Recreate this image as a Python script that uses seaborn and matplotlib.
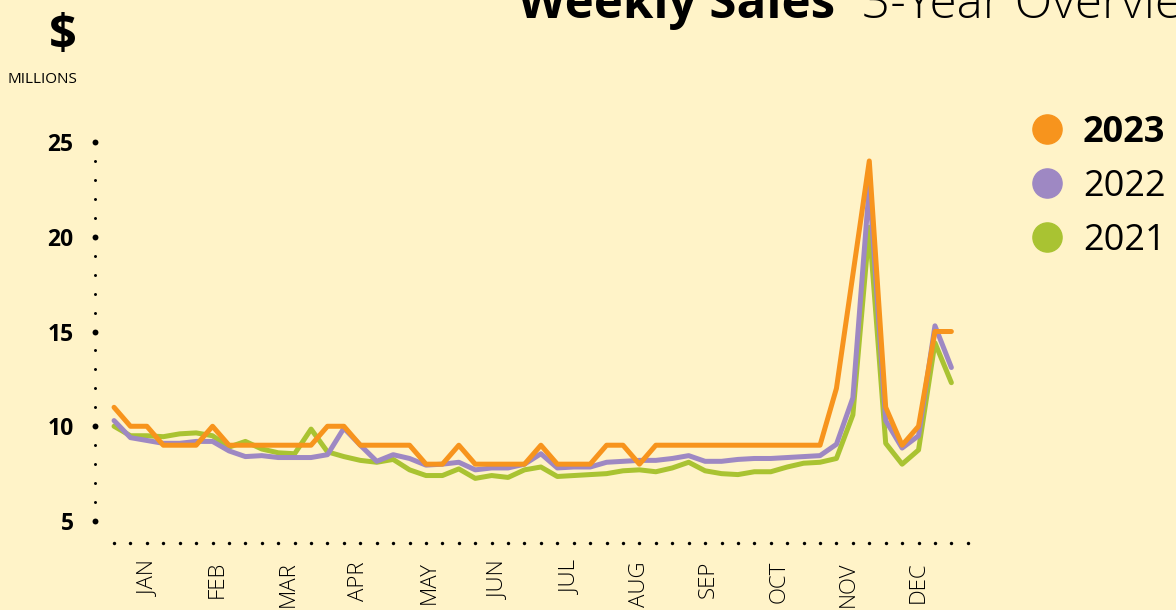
import numpy as np
import pandas as pd
import matplotlib
matplotlib.use("Agg")
import matplotlib.pyplot as plt
from matplotlib.lines import Line2D
import seaborn as sns

# ---------------- data ----------------
years = ["2023", "2022", "2021"]
sales_2023 = [11, 10, 10, 9, 9, 9, 10, 9, 9, 9, 9, 9, 9, 10, 10, 9, 9, 9, 9, 8,
              8, 9, 8, 8, 8, 8, 9, 8, 8, 8, 9, 9, 8, 9, 9, 9, 9, 9, 9, 9,
              9, 9, 9, 9, 12, 18, 24, 11, 9, 10, 15, 15]
sales_2022 = [10.3, 9.4, 9.25, 9.1, 9.1, 9.2, 9.2, 8.7, 8.4, 8.45, 8.35, 8.35, 8.35, 8.5,
              9.9, 9.0, 8.15, 8.5, 8.3, 7.95, 8.0, 8.1, 7.7, 7.8, 7.8, 8.0, 8.55, 7.8,
              7.85, 7.85, 8.1, 8.15, 8.2, 8.2, 8.3, 8.45, 8.15, 8.15, 8.25, 8.3, 8.3,
              8.35, 8.4, 8.45, 9.05, 11.5, 22.7, 10.3, 8.85, 9.5, 15.3, 13.1]
sales_2021 = [10.0, 9.5, 9.5, 9.45, 9.6, 9.65, 9.5, 8.9, 9.2, 8.8, 8.6, 8.55, 9.85, 8.65,
              8.4, 8.2, 8.1, 8.25, 7.7, 7.4, 7.4, 7.75, 7.25, 7.4, 7.3, 7.7, 7.85, 7.35,
              7.4, 7.45, 7.5, 7.65, 7.7, 7.6, 7.8, 8.1, 7.65, 7.5, 7.45, 7.6, 7.6, 7.85,
              8.05, 8.1, 8.3, 10.6, 20.5, 9.1, 8.0, 8.75, 14.4, 12.3]
months = ["JAN", "FEB", "MAR", "APR", "MAY", "JUN", "JUL", "AUG", "SEP", "OCT", "NOV", "DEC"]
month_pos = [2.1, 6.3, 10.6, 14.9, 19.2, 23.4, 27.8, 32.0, 36.2, 40.5, 44.7, 49.0]
y_ticks = [5, 10, 15, 20, 25]

# ---------------- style ----------------
BG = "#FFF3C8"
colors = {"2023": "#F7941D", "2022": "#9E88C3", "2021": "#A9C332"}

sns.set_style("white", {"axes.facecolor": BG, "figure.facecolor": BG,
                        "text.color": "black", "xtick.color": "black",
                        "ytick.color": "black", "axes.labelcolor": "black"})
plt.rcParams["font.family"] = ["Open Sans", "DejaVu Sans"]
plt.rcParams["text.color"] = "black"

W, H = 1176, 610
fig = plt.figure(figsize=(W / 100, H / 100), dpi=100)
fig.patch.set_facecolor(BG)

def px(x, y):
    return x / W, 1 - y / H

xlim = (-1.16, 52.5)
ylim = (3.84, 26.0)
ax = fig.add_axes([95 / W, (H - 543) / H, (976 - 95) / W, (543 - 123.05) / H])
ax.set_facecolor(BG)

n = len(sales_2023)
df = pd.DataFrame({
    "week": list(range(n)) * 3,
    "sales": sales_2021 + sales_2022 + sales_2023,
    "year": ["2021"] * n + ["2022"] * n + ["2023"] * n,
})
sns.lineplot(data=df, x="week", y="sales", hue="year",
             hue_order=["2021", "2022", "2023"], palette=colors,
             linewidth=3.6, legend=False, estimator=None, ax=ax)
for ln in ax.lines:
    ln.set_solid_capstyle("round")
    ln.set_solid_joinstyle("round")

ax.set_xlim(*xlim)
ax.set_ylim(*ylim)
for s in ax.spines.values():
    s.set_visible(False)

# dotted axes
yint = np.arange(5, 26)
small = [v for v in yint if v % 5 != 0]
ax.scatter(np.full(len(small), xlim[0]), small, s=4.5, color="black", clip_on=False, zorder=5, linewidths=0)
ax.scatter(np.full(len(y_ticks), xlim[0]), y_ticks, s=18, color="black", clip_on=False, zorder=5, linewidths=0)
xd = np.arange(0, 53)
ax.scatter(xd, np.full(len(xd), ylim[0]), s=6, color="black", clip_on=False, zorder=5, linewidths=0)

ax.set_yticks(y_ticks)
ax.set_yticklabels([str(v) for v in y_ticks], fontsize=16.5, fontweight="bold", color="black")
ax.tick_params(axis="y", length=0, pad=15.5, labelcolor="black")
ax.set_xticks(month_pos)
ax.set_xticklabels(months, rotation=90, fontsize=16, fontweight="light", color="black")
ax.tick_params(axis="x", length=0, pad=13, labelcolor="black")
ax.set_xlabel("")
ax.set_ylabel("")

# title (partly outside the canvas, as in the reference)
fig.text(*px(518, 18), "Weekly Sales", fontsize=35.5, fontweight="bold", va="baseline", ha="left", color="black")
fig.text(*px(862, 18), "3-Year Overview", fontsize=35.5, fontweight="light", va="baseline", ha="left", color="black")

# unit
fig.text(*px(63, 49), "$", fontsize=35, fontweight="bold", va="baseline", ha="center", color="black")
fig.text(*px(42, 83), "MILLIONS", fontsize=11, va="baseline", ha="center", color="black")

# legend
for i, yr in enumerate(years):
    cy = 129.3 + i * 53.7
    fig.add_artist(Line2D([1047 / W], [1 - cy / H], marker="o", markersize=21,
                          color=colors[yr], linestyle="none", transform=fig.transFigure))
    fig.text(*px(1083, cy + 13), yr, fontsize=26, color="black",
             fontweight="bold" if i == 0 else "normal", va="baseline", ha="left")

fig.savefig("out.png", dpi=100, facecolor=BG)
